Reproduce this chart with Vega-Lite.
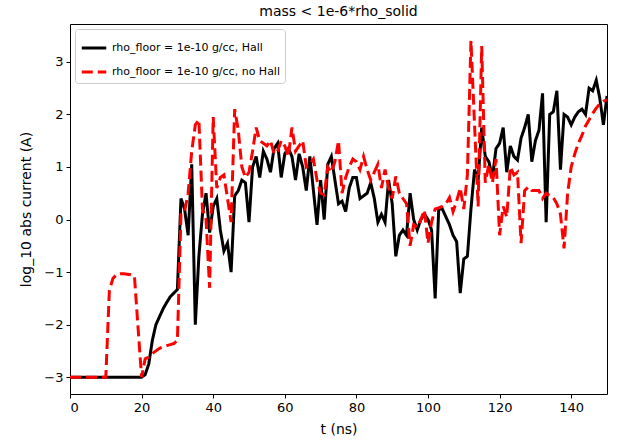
{
  "$schema": "https://vega.github.io/schema/vega-lite/v6.json",
  "width": 537,
  "height": 370,
  "autosize": "none",
  "padding": {"left": 70, "top": 24, "right": 22, "bottom": 49},
  "title": {"text": "mass < 1e-6*rho_solid", "fontSize": 14, "font": "DejaVu Sans", "fontWeight": "normal", "color": "black", "offset": 5},
  "config": {
    "font": "DejaVu Sans",
    "view": {"stroke": "black", "strokeWidth": 1},
    "axis": {"grid": false, "domain": false, "tickColor": "black", "tickSize": 4, "labelColor": "black", "labelFontSize": 13, "titleFontSize": 14, "titleFontWeight": "normal", "titleColor": "black", "labelPadding": 3},
    "axisX": {"titlePadding": 8},
    "axisY": {"titlePadding": 10},
    "legend": {"orient": "top-left", "offset": 5, "fillColor": "white", "strokeColor": "#cccccc", "cornerRadius": 3, "padding": 5, "symbolType": "stroke", "symbolStrokeWidth": 3, "symbolSize": 600, "labelFontSize": 11, "labelLimit": 400, "labelColor": "black", "rowPadding": 4}
  },
  "datasets": {
    "hall": [
      {"t":0,"v":-3},{"t":1,"v":-3},{"t":2,"v":-3},{"t":3,"v":-3},{"t":4,"v":-3},{"t":5,"v":-3},{"t":6,"v":-3},{"t":7,"v":-3},{"t":8,"v":-3},{"t":9,"v":-3},{"t":10,"v":-3},{"t":11,"v":-3},{"t":12,"v":-3},{"t":13,"v":-3},{"t":14,"v":-3},{"t":15,"v":-3},{"t":16,"v":-3},{"t":17,"v":-3},{"t":18,"v":-3},{"t":19,"v":-3},{"t":20,"v":-3},
      {"t":21,"v":-2.95},{"t":22,"v":-2.75},{"t":23,"v":-2.3},{"t":24,"v":-2.0},{"t":25,"v":-1.85},{"t":26,"v":-1.7},{"t":27,"v":-1.58},{"t":28,"v":-1.47},{"t":29,"v":-1.4},{"t":30,"v":-1.33},
      {"t":31,"v":0.4},{"t":32,"v":0.2},{"t":33,"v":-0.3},{"t":34,"v":1.05},{"t":35,"v":-2.0},{"t":36,"v":-0.7},{"t":37,"v":0.1},{"t":38,"v":0.5},{"t":39,"v":-0.25},{"t":40,"v":0.25},
      {"t":41,"v":0.4},{"t":42,"v":-0.2},{"t":43,"v":-0.6},{"t":44,"v":-0.45},{"t":45,"v":-1.0},{"t":46,"v":0.45},{"t":47,"v":0.55},{"t":48,"v":0.75},{"t":49,"v":0.7},{"t":50,"v":-0.05},
      {"t":51,"v":1.0},{"t":52,"v":1.2},{"t":53,"v":0.8},{"t":54,"v":1.3},{"t":55,"v":1.15},{"t":56,"v":0.9},{"t":57,"v":1.35},{"t":58,"v":1.45},{"t":59,"v":0.8},{"t":60,"v":1.25},
      {"t":61,"v":1.35},{"t":62,"v":1.2},{"t":63,"v":0.75},{"t":64,"v":1.25},{"t":65,"v":1.0},{"t":66,"v":0.55},{"t":67,"v":1.2},{"t":68,"v":0.55},{"t":69,"v":-0.1},{"t":70,"v":0.75},
      {"t":71,"v":0.0},{"t":72,"v":1.05},{"t":73,"v":1.2},{"t":74,"v":0.75},{"t":75,"v":0.3},{"t":76,"v":0.35},{"t":77,"v":0.15},{"t":78,"v":0.6},{"t":79,"v":0.8},{"t":80,"v":0.8},
      {"t":81,"v":0.4},{"t":82,"v":0.45},{"t":83,"v":0.5},{"t":84,"v":0.7},{"t":85,"v":0.4},{"t":86,"v":-0.05},{"t":87,"v":0.1},{"t":88,"v":-0.05},{"t":89,"v":0.75},{"t":90,"v":0.3},
      {"t":91,"v":-0.7},{"t":92,"v":-0.3},{"t":93,"v":-0.2},{"t":94,"v":-0.3},{"t":95,"v":0.5},{"t":96,"v":0.0},{"t":97,"v":-0.2},{"t":98,"v":0.0},{"t":99,"v":0.1},{"t":100,"v":0.0},
      {"t":101,"v":-0.2},{"t":102,"v":-1.5},{"t":103,"v":0.2},{"t":104,"v":0.2},{"t":105,"v":0.05},{"t":106,"v":-0.1},{"t":107,"v":-0.3},{"t":108,"v":-0.42},{"t":109,"v":-1.4},{"t":110,"v":-0.75},
      {"t":111,"v":-0.7},{"t":112,"v":0.2},{"t":113,"v":0.95},{"t":114,"v":0.75},{"t":115,"v":1.75},{"t":116,"v":1.2},{"t":117,"v":1.1},{"t":118,"v":0.8},{"t":119,"v":1.35},{"t":120,"v":1.45},
      {"t":121,"v":1.75},{"t":122,"v":0.9},{"t":123,"v":1.4},{"t":124,"v":1.2},{"t":125,"v":1.13},{"t":126,"v":1.55},{"t":127,"v":1.75},{"t":128,"v":2.0},{"t":129,"v":1.1},{"t":130,"v":1.5},
      {"t":131,"v":1.7},{"t":132,"v":2.4},{"t":133,"v":-0.05},{"t":134,"v":2.0},{"t":135,"v":2.05},{"t":136,"v":2.45},{"t":137,"v":0.95},{"t":138,"v":2.0},{"t":139,"v":1.95},{"t":140,"v":1.8},
      {"t":141,"v":1.95},{"t":142,"v":2.05},{"t":143,"v":2.1},{"t":144,"v":2.0},{"t":145,"v":2.5},{"t":146,"v":2.45},{"t":147,"v":2.65},{"t":148,"v":2.3},{"t":149,"v":1.8},{"t":150,"v":2.35}
    ],
    "nohall": [
      {"t":0,"v":-3},{"t":1,"v":-3},{"t":2,"v":-3},{"t":3,"v":-3},{"t":4,"v":-3},{"t":5,"v":-3},{"t":6,"v":-3},{"t":7,"v":-3},{"t":8,"v":-3},{"t":9,"v":-3},{"t":10,"v":-3},
      {"t":11,"v":-1.35},{"t":12,"v":-1.12},{"t":13,"v":-1.05},{"t":14,"v":-1.03},{"t":15,"v":-1.03},{"t":16,"v":-1.04},{"t":17,"v":-1.05},{"t":18,"v":-1.08},{"t":19,"v":-2.05},{"t":20,"v":-3},
      {"t":21,"v":-2.65},{"t":22,"v":-2.62},{"t":23,"v":-2.55},{"t":24,"v":-2.5},{"t":25,"v":-2.45},{"t":26,"v":-2.42},{"t":27,"v":-2.4},{"t":28,"v":-2.38},{"t":29,"v":-2.36},{"t":30,"v":-2.3},
      {"t":31,"v":0.1},{"t":32,"v":0.15},{"t":33,"v":0.5},{"t":34,"v":1.3},{"t":35,"v":1.8},{"t":36,"v":1.9},{"t":37,"v":0.2},{"t":38,"v":0.0},{"t":39,"v":-1.3},{"t":40,"v":1.95},
      {"t":41,"v":0.6},{"t":42,"v":0.8},{"t":43,"v":0.85},{"t":44,"v":0.4},{"t":45,"v":-0.05},{"t":46,"v":2.1},{"t":47,"v":1.7},{"t":48,"v":1.0},{"t":49,"v":0.8},{"t":50,"v":0.9},
      {"t":51,"v":1.3},{"t":52,"v":1.75},{"t":53,"v":1.5},{"t":54,"v":1.45},{"t":55,"v":1.4},{"t":56,"v":1.5},{"t":57,"v":1.25},{"t":58,"v":1.3},{"t":59,"v":1.5},{"t":60,"v":1.4},
      {"t":61,"v":1.2},{"t":62,"v":1.75},{"t":63,"v":1.3},{"t":64,"v":1.4},{"t":65,"v":1.5},{"t":66,"v":1.0},{"t":67,"v":1.05},{"t":68,"v":1.15},{"t":69,"v":0.75},{"t":70,"v":0.5},
      {"t":71,"v":0.47},{"t":72,"v":1.0},{"t":73,"v":0.9},{"t":74,"v":1.1},{"t":75,"v":1.5},{"t":76,"v":0.5},{"t":77,"v":0.8},{"t":78,"v":1.0},{"t":79,"v":1.15},{"t":80,"v":1.1},
      {"t":81,"v":0.95},{"t":82,"v":1.2},{"t":83,"v":0.95},{"t":84,"v":0.75},{"t":85,"v":0.9},{"t":86,"v":1.05},{"t":87,"v":0.6},{"t":88,"v":0.95},{"t":89,"v":0.6},{"t":90,"v":0.4},
      {"t":91,"v":0.82},{"t":92,"v":0.5},{"t":93,"v":0.4},{"t":94,"v":0.3},{"t":95,"v":-0.5},{"t":96,"v":-0.1},{"t":97,"v":-0.15},{"t":98,"v":0.0},{"t":99,"v":0.18},{"t":100,"v":-0.45},
      {"t":101,"v":-0.05},{"t":102,"v":0.2},{"t":103,"v":0.22},{"t":104,"v":0.25},{"t":105,"v":0.3},{"t":106,"v":0.42},{"t":107,"v":0.15},{"t":108,"v":0.35},{"t":109,"v":0.6},{"t":110,"v":0.2},
      {"t":111,"v":0.85},{"t":112,"v":3.4},{"t":113,"v":1.8},{"t":114,"v":0.25},{"t":115,"v":3.3},{"t":116,"v":0.7},{"t":117,"v":1.05},{"t":118,"v":0.7},{"t":119,"v":1.15},{"t":120,"v":-0.3},
      {"t":121,"v":0.25},{"t":122,"v":0.05},{"t":123,"v":1.0},{"t":124,"v":0.85},{"t":125,"v":0.9},{"t":126,"v":-0.45},{"t":127,"v":0.55},{"t":128,"v":0.62},{"t":129,"v":0.55},{"t":130,"v":0.55},
      {"t":131,"v":0.55},{"t":132,"v":0.4},{"t":133,"v":0.5},{"t":134,"v":0.45},{"t":135,"v":0.42},{"t":136,"v":0.3},{"t":137,"v":0.1},{"t":138,"v":-0.55},{"t":139,"v":0.5},{"t":140,"v":1.0},
      {"t":141,"v":1.25},{"t":142,"v":1.45},{"t":143,"v":1.6},{"t":144,"v":1.78},{"t":145,"v":1.9},{"t":146,"v":2.02},{"t":147,"v":2.12},{"t":148,"v":2.2},{"t":149,"v":2.25},{"t":150,"v":2.28}
    ]
  },
  "layer": [
    {
      "data": {"name": "hall"},
      "transform": [{"calculate": "'rho_floor = 1e-10 g/cc, Hall'", "as": "series"}],
      "mark": {"type": "line", "strokeWidth": 3, "clip": true},
      "encoding": {
        "x": {"field": "t", "type": "quantitative", "scale": {"domain": [0, 150], "nice": false, "zero": false}, "axis": {"values": [0,20,40,60,80,100,120,140], "format": "d", "title": "t (ns)"}},
        "y": {"field": "v", "type": "quantitative", "scale": {"domain": [-3.32, 3.72], "nice": false, "zero": false}, "axis": {"values": [-3,-2,-1,0,1,2,3], "format": "d", "title": "log_10 abs current (A)"}},
        "color": {"field": "series", "type": "nominal", "title": null, "scale": {"domain": ["rho_floor = 1e-10 g/cc, Hall", "rho_floor = 1e-10 g/cc, no Hall"], "range": ["black", "red"]}},
        "strokeDash": {"field": "series", "type": "nominal", "title": null, "scale": {"domain": ["rho_floor = 1e-10 g/cc, Hall", "rho_floor = 1e-10 g/cc, no Hall"], "range": [[1, 0], [11, 5]]}}
      }
    },
    {
      "data": {"name": "nohall"},
      "transform": [{"calculate": "'rho_floor = 1e-10 g/cc, no Hall'", "as": "series"}],
      "mark": {"type": "line", "strokeWidth": 3, "clip": true},
      "encoding": {
        "x": {"field": "t", "type": "quantitative"},
        "y": {"field": "v", "type": "quantitative"},
        "color": {"field": "series", "type": "nominal", "title": null},
        "strokeDash": {"field": "series", "type": "nominal", "title": null}
      }
    }
  ],
  "resolve": {"scale": {"color": "shared", "strokeDash": "shared"}}
}
